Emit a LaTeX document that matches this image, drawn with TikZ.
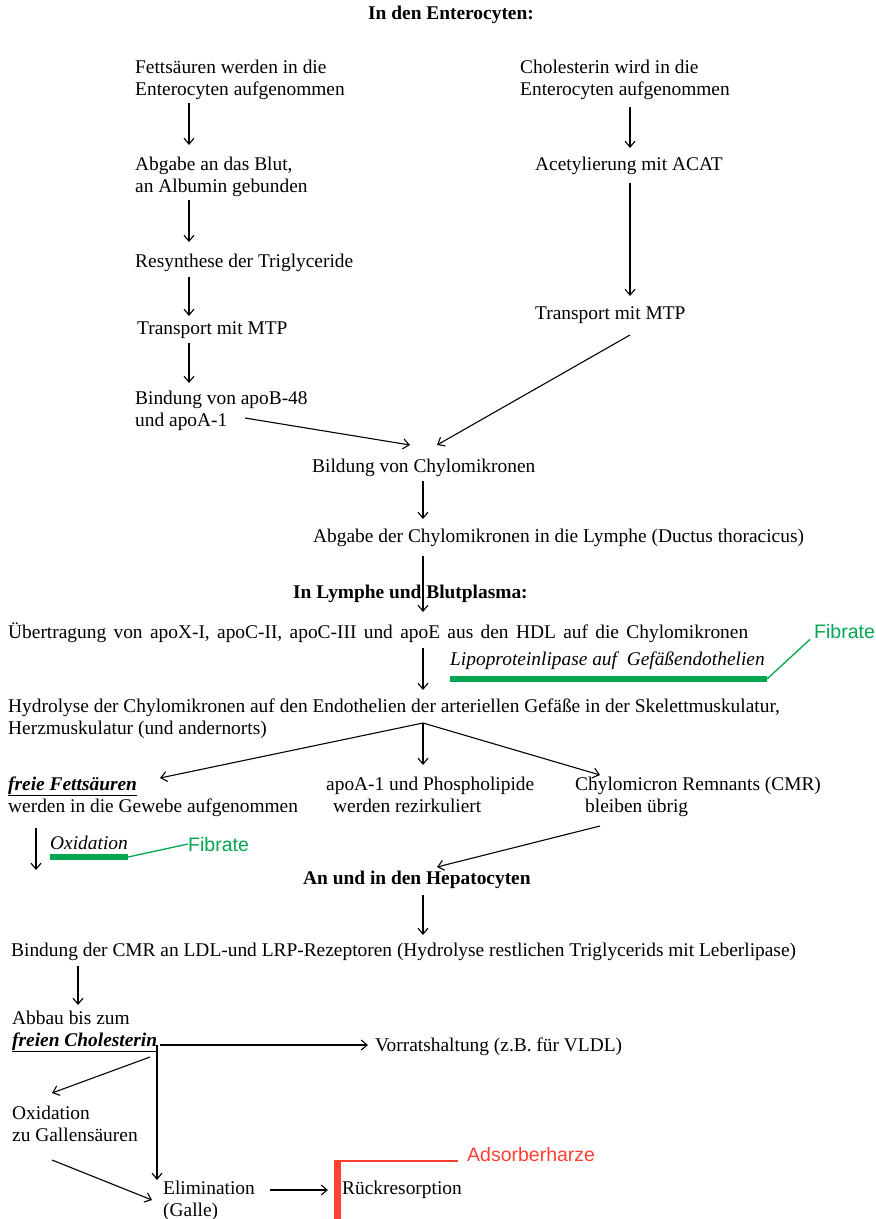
\documentclass[tikz,border=0pt]{standalone}
\usepackage{fontspec}
\setmainfont{Liberation Serif}
\newfontfamily\sansf{Liberation Sans}
\usetikzlibrary{arrows.meta}
\definecolor{fgreen}{RGB}{0,166,80}
\definecolor{fred}{RGB}{255,64,50}
\begin{document}
\begin{tikzpicture}[x=1pt,y=-1pt,
  txt/.style={anchor=base west,inner sep=0pt,align=left,font=\fontsize{19.4}{22}\selectfont},
  hd/.style={anchor=base west,inner sep=0pt,font=\fontsize{19.4}{22}\selectfont\bfseries},
  gtxt/.style={anchor=base west,inner sep=0pt,font=\fontsize{19.5}{22}\sansf,text=fgreen},
  rtxt/.style={anchor=base west,inner sep=0pt,font=\fontsize{19.5}{22}\sansf,text=fred},
  arr/.style={draw=black,line width=1.1pt,-{Straight Barb[length=6pt,width=10pt,line width=1.1pt]}},
  gbar/.style={draw=fgreen,line width=6pt},
  gline/.style={draw=fgreen,line width=1.3pt},
  rline/.style={draw=fred,line width=1.6pt},
  rbar/.style={draw=fred,line width=7pt}]
\useasboundingbox (0,0) rectangle (876,1219);
\fill[white] (0,0) rectangle (876,1219);
% headings
\node[hd] (t1) at (368,19) {In den Enterocyten:};
\node[hd] (t2) at (293,598) {In Lymphe und Blutplasma:};
\node[hd] (t3) at (303,884) {An und in den Hepatocyten};
% left column
\node[txt] (a1) at (135,95) {Fettsäuren werden in die\\Enterocyten aufgenommen};
\node[txt] (a2) at (135,192) {Abgabe an das Blut,\\an Albumin gebunden};
\node[txt] (a3) at (135,267) {Resynthese der Triglyceride};
\node[txt] (a4) at (137,334) {Transport mit MTP};
\node[txt] (a5) at (135,426) {Bindung von apoB-48\\und apoA-1};
% right column
\node[txt] (b1) at (520,95) {Cholesterin wird in die\\Enterocyten aufgenommen};
\node[txt] (b2) at (535,170) {Acetylierung mit ACAT};
\node[txt] (b3) at (535,319) {Transport mit MTP};
% middle
\node[txt] (c1) at (312,472) {Bildung von Chylomikronen};
\node[txt] (c2) at (313,542) {Abgabe der Chylomikronen in die Lymphe (Ductus thoracicus)};
\node[txt] (c3) at (8,638) {\makebox[740pt][s]{Übertragung von apoX-I, apoC-II, apoC-III und apoE aus den HDL auf die Chylomikronen}};
\node[txt,font=\fontsize{19.4}{22}\selectfont\itshape] (lpl) at (450,665) {Lipoproteinlipase auf\ \ Gefäßendothelien};
\node[txt] (c4) at (8,734) {Hydrolyse der Chylomikronen auf den Endothelien der arteriellen Gefäße in der Skelettmuskulatur,\\Herzmuskulatur (und andernorts)};
\node[txt] (d1) at (8,812) {\underline{\textbf{\textit{freie Fettsäuren}}}\\werden in die Gewebe aufgenommen};
\node[txt] (d2) at (326,812) {apoA-1 und Phospholipide\\\hspace*{7pt}werden rezirkuliert};
\node[txt] (d3) at (575,812) {Chylomicron Remnants (CMR)\\\hspace*{10pt}bleiben übrig};
\node[txt,font=\fontsize{19.4}{22}\selectfont\itshape] (ox) at (50,849) {Oxidation};
\node[txt] (e1) at (11,956) {Bindung der CMR an LDL-und LRP-Rezeptoren (Hydrolyse restlichen Triglycerids mit Leberlipase)};
\node[txt] (e2) at (12,1046) {Abbau bis zum\\\underline{\textbf{\textit{freien Cholesterin}}}};
\node[txt] (e3) at (375,1051) {Vorratshaltung (z.B. für VLDL)};
\node[txt] (e4) at (12,1141) {Oxidation\\zu Gallensäuren};
\node[txt] (e5) at (163,1216) {Elimination\\(Galle)};
\node[txt] (e6) at (342,1194) {Rückresorption};
% drug labels
\node[gtxt] (f1) at (814,638) {Fibrate};
\node[gtxt] (f2) at (188,851) {Fibrate};
\node[rtxt] (ad) at (467,1161) {Adsorberharze};
% arrows left column
\draw[arr] (189,103) -- (189,145);
\draw[arr] (189,200) -- (189,242);
\draw[arr] (189,277) -- (189,316);
\draw[arr] (189,343) -- (189,383);
\draw[arr] (245,418) -- (410,445);
% right column
\draw[arr] (630,107) -- (630,148);
\draw[arr] (630,183) -- (630,296);
\draw[arr] (630,335) -- (437,445);
% middle
\draw[arr] (423,481) -- (423,519);
\draw[arr] (423,556) -- (423,612);
\draw[arr] (423,648) -- (423,690);
\draw[arr] (423,723) -- (160,778);
\draw[arr] (423,723) -- (423,765);
\draw[arr] (423,723) -- (600,775);
\draw[arr] (36,828) -- (36,870);
\draw[arr] (600,826) -- (437,867);
\draw[arr] (423,895) -- (423,935);
\draw[arr] (78,966) -- (78,1005);
\draw[arr] (160,1045) -- (368,1045);
\draw[arr] (157,1045) -- (157,1180);
\draw[arr] (150,1057) -- (52,1093);
\draw[arr] (52,1160) -- (152,1200);
\draw[arr] (270,1190) -- (328,1190);
% drug marks
\draw[gbar] (450,679) -- (767,679);
\draw[gline] (767,679) -- ([xshift=-4pt,yshift=-1pt]f1.south west);
\draw[gbar] (50,857) -- (128,857);
\draw[gline] (128,857) -- (f2.west);
\draw[rbar] (337,1160) -- (337,1219);
\draw[rline] (337,1161) -- ([xshift=-9pt]ad.base west);
\end{tikzpicture}
\end{document}
